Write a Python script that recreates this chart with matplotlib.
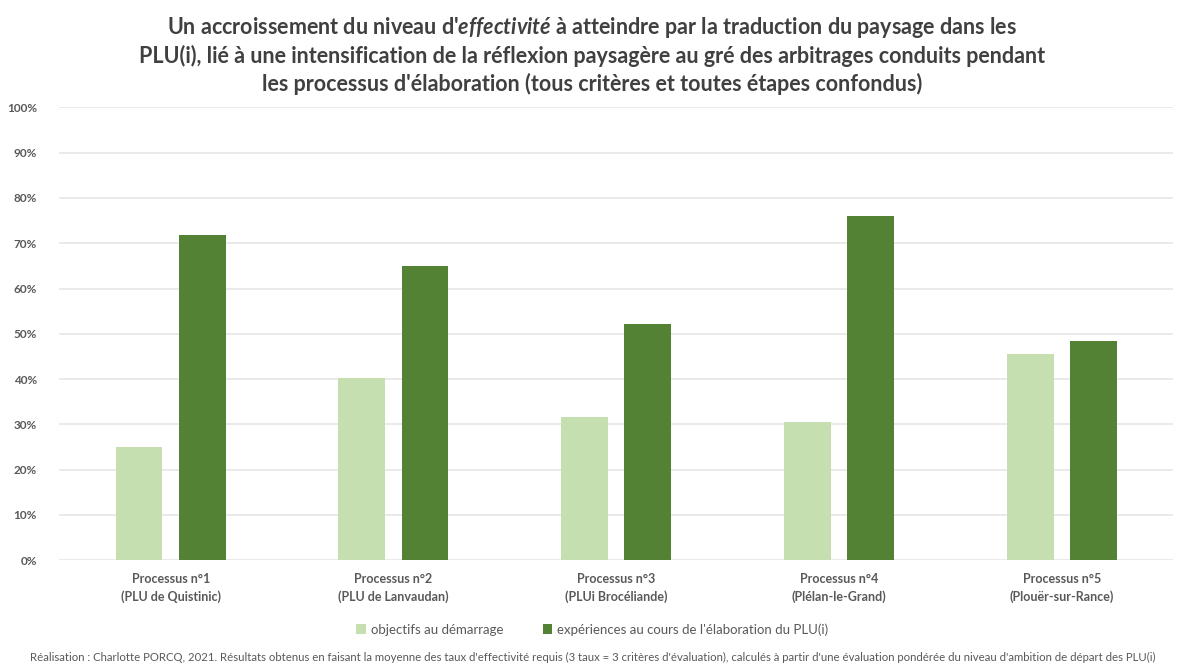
import matplotlib.pyplot as plt
import numpy as np
from matplotlib.ticker import PercentFormatter

plt.rcParams['font.family'] = ['Lato', 'DejaVu Sans']
plt.rcParams['mathtext.fontset'] = 'custom'
plt.rcParams['mathtext.it'] = 'Lato:bold:italic'
plt.rcParams['mathtext.rm'] = 'Lato:bold'

# data
categories = ["Processus n°1\n(PLU de Quistinic)", "Processus n°2\n(PLU de Lanvaudan)",
              "Processus n°3\n(PLUi Brocéliande)", "Processus n°4\n(Plélan-le-Grand)",
              "Processus n°5\n(Plouër-sur-Rance)"]
objectifs = [25.0, 40.3, 31.6, 30.5, 45.6]
experiences = [71.8, 64.9, 52.1, 76.0, 48.5]
series_names = ["objectifs au démarrage", "expériences au cours de l'élaboration du PLU(i)"]

light = '#c5dfb0'
dark = '#548235'
gray = '#595959'

fig = plt.figure(figsize=(11.85, 6.71), dpi=100)
ax = fig.add_axes([0.05, 0.165, 0.94, 0.675])

x = np.arange(len(categories))
w = 0.21
b1 = ax.bar(x - 0.142, objectifs, w, color=light, label=series_names[0], zorder=3)
b2 = ax.bar(x + 0.142, experiences, w, color=dark, label=series_names[1], zorder=3)

ax.set_xlim(-0.5, len(categories) - 0.5)
ax.set_ylim(0, 100)
ax.set_yticks(np.arange(0, 101, 10))
ax.yaxis.set_major_formatter(PercentFormatter(decimals=0))
ax.grid(axis='y', color='#e6e6e6', linewidth=1.2, zorder=0)
for s in ax.spines.values():
    s.set_visible(False)
ax.tick_params(axis='both', length=0, colors=gray)
ax.tick_params(axis='y', labelsize=8.5, pad=16)
for t in ax.get_yticklabels():
    t.set_fontweight('bold')
ax.set_xticks(x)
ax.set_xticklabels(categories, fontsize=9, color=gray, linespacing=1.5, fontweight='bold')
ax.tick_params(axis='x', pad=9)

title = ("Un accroissement du niveau d'$\\mathit{effectivité}$ à atteindre par la traduction du paysage dans les\n"
         "PLU(i), lié à une intensification de la réflexion paysagère au gré des arbitrages conduits pendant\n"
         "les processus d'élaboration (tous critères et toutes étapes confondus)")
fig.text(0.5, 0.978, title, ha='center', va='top', fontsize=15.5, fontweight='bold',
         color='#404040', linespacing=1.3)

fig.legend(handles=[b1, b2], labels=series_names, loc='center', bbox_to_anchor=(0.5, 0.062),
           ncol=2, frameon=False, fontsize=9.5, labelcolor=gray, handlelength=0.7,
           handleheight=0.7, handletextpad=0.4, columnspacing=3)

fig.text(0.5, 0.012, "Réalisation : Charlotte PORCQ, 2021. Résultats obtenus en faisant la moyenne des taux d'effectivité requis "
         "(3 taux = 3 critères d'évaluation), calculés à partir d'une évaluation pondérée du niveau d'ambition de départ des PLU(i)",
         ha='center', va='bottom', fontsize=8.2, color=gray)

fig.savefig('out.png', dpi=100)
